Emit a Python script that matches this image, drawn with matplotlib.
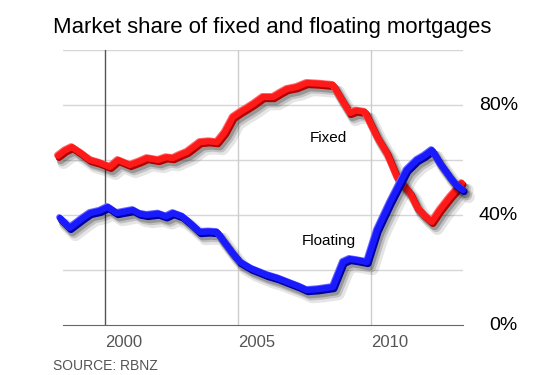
import matplotlib
matplotlib.use('Agg')
import matplotlib.pyplot as plt
import matplotlib.patheffects as pe
import matplotlib.transforms as mtransforms

plt.rcParams['font.family'] = ['Liberation Sans', 'DejaVu Sans']

# 읽어 낸 데이터 (연도, 점유율 %)
fixed_years = [1998.23, 1998.5, 1998.76, 1999.1, 1999.44, 1999.8, 2000.19, 2000.49, 2000.94,
               2001.3, 2001.58, 2002.0, 2002.3, 2002.56, 2002.8, 2003.08, 2003.3, 2003.57,
               2003.9, 2004.21, 2004.5, 2004.81, 2005.1, 2005.34, 2005.6, 2005.94, 2006.32,
               2006.6, 2006.84, 2007.2, 2007.59, 2008.0, 2008.57, 2008.91, 2009.21, 2009.45,
               2009.77, 2010.23, 2010.6, 2010.98, 2011.47, 2011.73, 2012.0, 2012.29, 2012.59,
               2012.97, 2013.2, 2013.42]
fixed_share = [61.5, 63.5, 64.7, 62.5, 60.0, 59.0, 57.5, 60.0, 58.2,
               59.5, 60.7, 60.0, 61.0, 60.7, 61.8, 62.9, 64.5, 66.5,
               66.8, 66.5, 70.0, 75.6, 77.5, 78.9, 80.5, 82.9, 82.9,
               84.5, 85.8, 86.5, 88.0, 87.8, 87.3, 81.8, 77.1, 78.0,
               77.5, 68.4, 62.5, 53.8, 48.0, 42.9, 40.0, 37.5, 41.8,
               46.5, 49.0, 51.6]

float_years = [1998.31, 1998.68, 1999.17, 1999.44, 1999.8, 2000.11, 2000.45, 2001.05, 2001.3,
               2001.58, 2002.0, 2002.3, 2002.56, 2002.9, 2003.2, 2003.57, 2003.9, 2004.21,
               2004.5, 2004.77, 2005.08, 2005.5, 2006.09, 2006.5, 2006.95, 2007.3, 2007.59,
               2008.0, 2008.57, 2008.95, 2009.2, 2009.47, 2009.85, 2010.23, 2010.71, 2011.09,
               2011.35, 2011.73, 2012.0, 2012.29, 2012.59, 2012.97, 2013.2, 2013.46]
float_share = [38.9, 35.3, 38.9, 40.7, 41.5, 42.9, 40.7, 41.8, 40.5,
               40.0, 40.5, 39.5, 40.7, 39.5, 37.1, 33.8, 34.0, 33.8,
               30.0, 26.5, 22.9, 20.5, 18.2, 17.0, 15.3, 14.0, 12.7,
               13.0, 13.8, 22.9, 24.0, 23.6, 22.9, 34.5, 44.4, 51.6,
               56.4, 60.0, 61.5, 63.6, 58.9, 53.8, 51.0, 49.1]

grid_years = [2000, 2005, 2010]
pct_ticks = [0, 40, 80]


def line_effects(dark, light):
    return [pe.SimpleLineShadow(offset=(4, -5), shadow_color='black', alpha=0.10, linewidth=9),
            pe.SimpleLineShadow(offset=(3, -4), shadow_color='black', alpha=0.15, linewidth=7),
            pe.SimpleLineShadow(offset=(2, -3), shadow_color='black', alpha=0.22, linewidth=6),
            pe.Stroke(offset=(0.8, -1.2), linewidth=5, foreground=dark),
            pe.Stroke(offset=(-0.6, 0.6), linewidth=4.5, foreground=light),
            pe.Normal()]


fig = plt.figure(figsize=(5.5, 3.75), dpi=100)
ax = fig.add_axes([63 / 550, 50 / 375, 400 / 550, 275 / 375])

ax.set_xlim(1998.42, 2013.46)
ax.set_ylim(0, 100)

# 가로 격자선
for v in [20, 40, 60, 80, 100]:
    ax.axhline(v, color='#d6d6d6', lw=1, zorder=0)
# 세로 격자선 (2000 은 진하게)
for i, yr in enumerate(grid_years):
    ax.axvline(yr, color='#555555' if i == 0 else '#cccccc', lw=1, zorder=0)

ax.plot(fixed_years, fixed_share, color='#ff1a1a', lw=4.5, solid_capstyle='round',
        solid_joinstyle='round', clip_on=False, zorder=3,
        path_effects=line_effects('#b00000', '#ff6a6a'))
ax.plot(float_years, float_share, color='#1a1aff', lw=4.5, solid_capstyle='round',
        solid_joinstyle='round', clip_on=False, zorder=4,
        path_effects=line_effects('#0000a0', '#6a6aff'))

for s in ['top', 'right', 'left']:
    ax.spines[s].set_visible(False)
ax.spines['bottom'].set_color('#666666')
ax.set_xticks([])
ax.set_yticks([])

trans = mtransforms.blended_transform_factory(ax.transData, ax.transAxes)
for yr in grid_years:
    ax.text(yr, -0.062, str(yr), transform=trans, ha='left', va='center',
            fontsize=12, color='#555555')

trans_y = mtransforms.blended_transform_factory(ax.transAxes, ax.transData)
for p in pct_ticks:
    ax.text(1.1375, p, f'{p}%', transform=trans_y, ha='right', va='center',
            fontsize=14, color='black')

ax.text(2008.4, 68, 'Fixed', ha='center', va='center', fontsize=11)
ax.text(2008.4, 30.5, 'Floating', ha='center', va='center', fontsize=11)

fig.text(53 / 550, 1 - 28 / 375, 'Market share of fixed and floating mortgages',
         ha='left', va='center', fontsize=15.9)
fig.text(53 / 550, 1 - 366 / 375, 'SOURCE: RBNZ', ha='left', va='center',
         fontsize=10, color='#555555')

fig.savefig('out.png', dpi=100)
